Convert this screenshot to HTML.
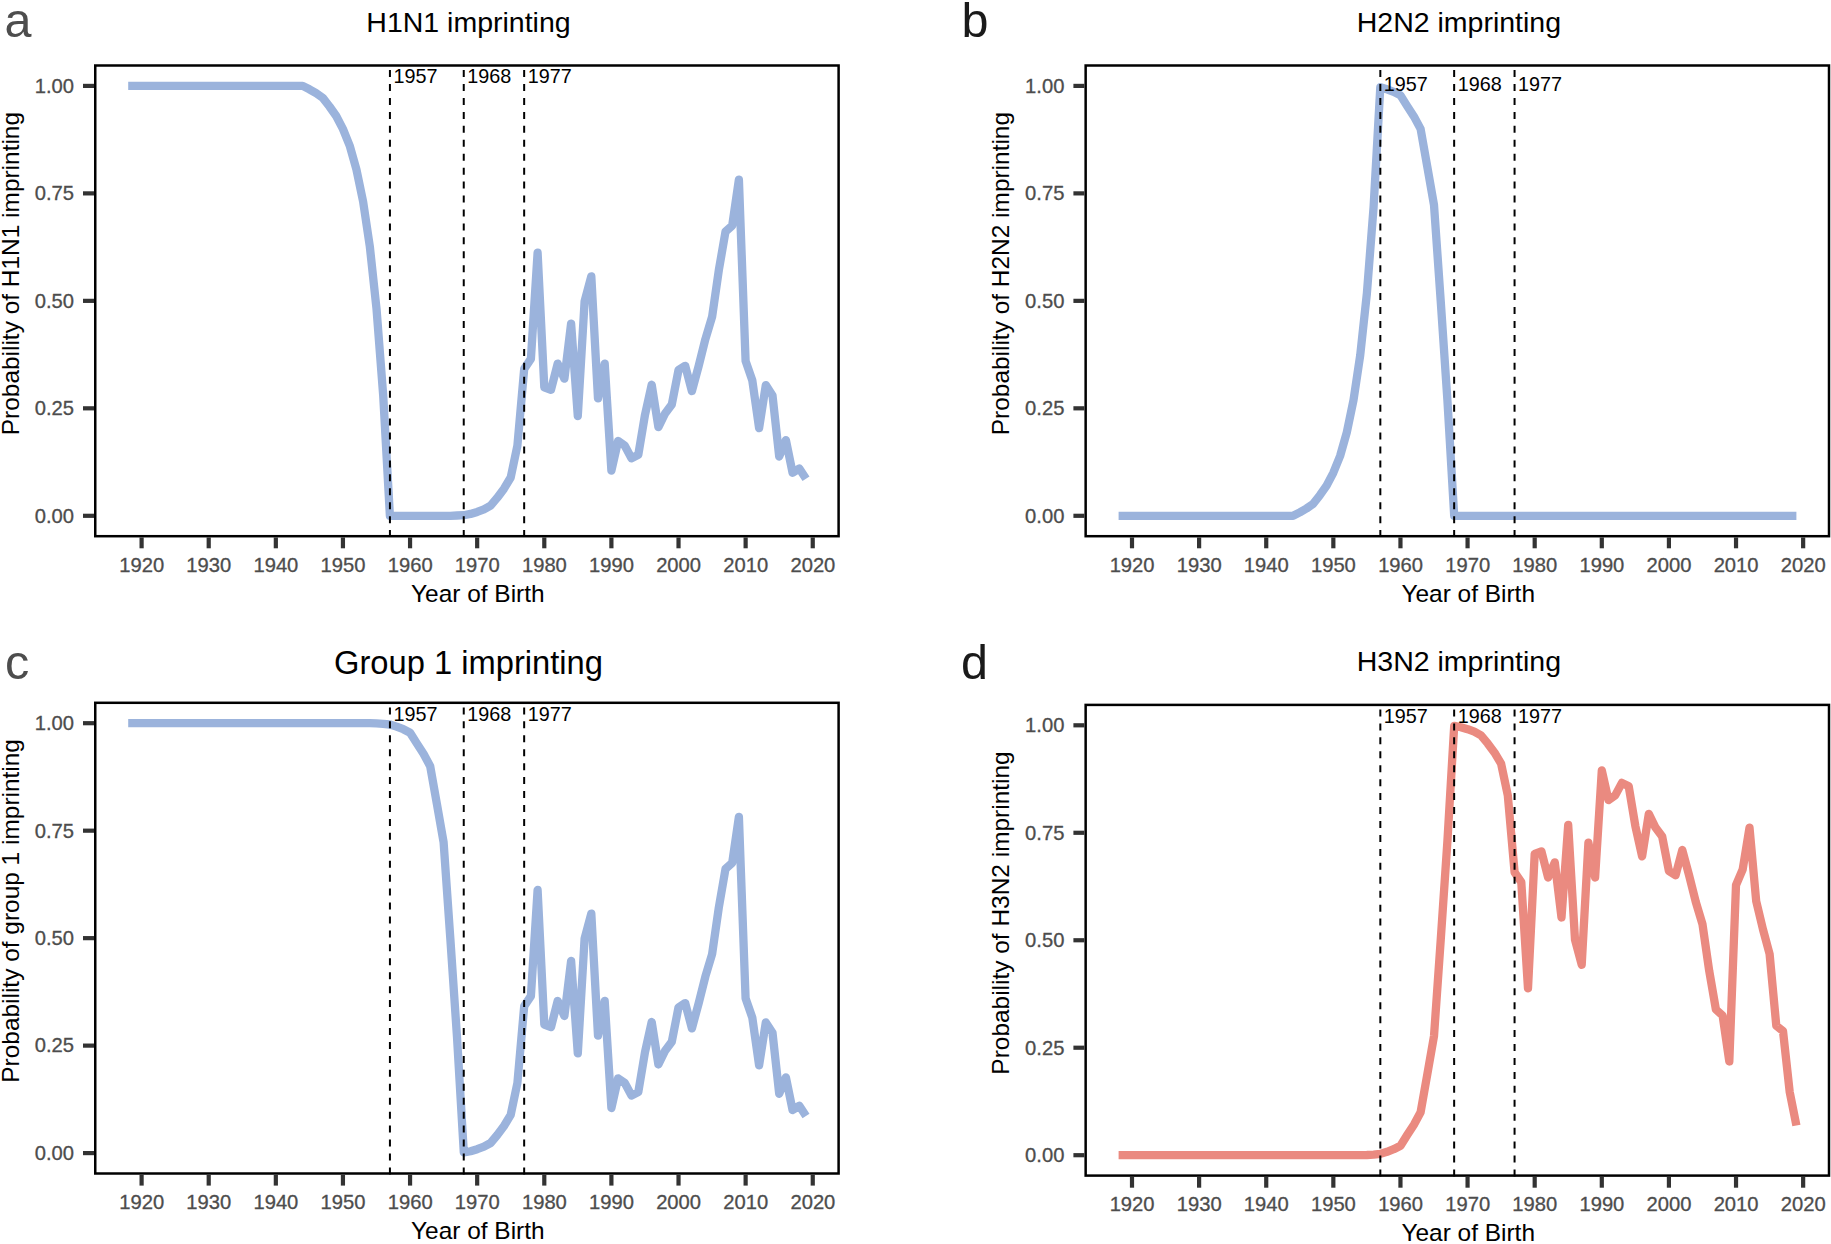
<!DOCTYPE html>
<html lang="en">
<head>
<meta charset="utf-8">
<title>Imprinting probabilities by year of birth</title>
<style>
html,body{margin:0;padding:0;background:#fff;}
body{width:1831px;height:1244px;overflow:hidden;}
svg{display:block;font-family:"Liberation Sans",Arial,Helvetica,sans-serif;}
</style>
</head>
<body>
<svg width="1831" height="1244" viewBox="0 0 1831 1244">
<rect x="0" y="0" width="1831" height="1244" fill="#ffffff"/>
<g transform="translate(0.00,0.00)">
<text x="4.5" y="36.6" font-size="48.5" fill="#4d4d4d">a</text>
<text x="468.5" y="31.7" font-size="28.5" text-anchor="middle" fill="#000">H1N1 imprinting</text>
<path d="M128.2,85.9 L134.9,85.9 L141.6,85.9 L148.3,85.9 L155.0,85.9 L161.7,85.9 L168.4,85.9 L175.2,85.9 L181.9,85.9 L188.6,85.9 L195.3,85.9 L202.0,85.9 L208.7,85.9 L215.4,85.9 L222.1,85.9 L228.8,85.9 L235.6,85.9 L242.3,85.9 L249.0,85.9 L255.7,85.9 L262.4,85.9 L269.1,85.9 L275.8,85.9 L282.5,85.9 L289.3,85.9 L296.0,85.9 L302.7,85.9 L309.4,89.3 L316.1,93.2 L322.8,97.9 L329.5,106.5 L336.2,116.0 L342.9,128.9 L349.7,145.7 L356.4,169.3 L363.1,201.5 L369.8,246.3 L376.5,308.6 L383.2,395.4 L389.9,515.8 L396.6,515.8 L403.3,515.8 L410.1,515.8 L416.8,515.8 L423.5,515.8 L430.2,515.8 L436.9,515.8 L443.6,515.8 L450.3,515.8 L457.0,515.5 L463.8,515.2 L470.5,513.9 L477.2,511.9 L483.9,509.4 L490.6,505.7 L497.3,497.7 L504.0,488.7 L510.7,477.5 L517.4,445.7 L524.2,368.8 L530.9,358.9 L537.6,252.7 L544.3,387.3 L551.0,389.8 L557.7,363.6 L564.4,378.7 L571.1,323.6 L577.8,416.1 L584.6,301.3 L591.3,276.3 L598.0,398.4 L604.7,363.6 L611.4,470.7 L618.1,441.0 L624.8,445.7 L631.5,458.2 L638.3,454.8 L645.0,414.8 L651.7,384.7 L658.4,427.2 L665.1,413.5 L671.8,404.5 L678.5,370.1 L685.2,365.8 L691.9,391.1 L698.7,365.8 L705.4,339.1 L712.1,316.8 L718.8,270.3 L725.5,231.6 L732.2,225.6 L738.9,179.6 L745.6,361.0 L752.3,380.4 L759.1,428.1 L765.8,385.1 L772.5,395.4 L779.2,456.5 L785.9,440.1 L792.6,472.8 L799.3,468.5 L806.0,478.8" fill="none" stroke="#9bb3dc" stroke-width="8.3" stroke-linejoin="round" stroke-linecap="butt"/>
<line x1="389.93" y1="537.1" x2="389.93" y2="65.5" stroke="#000" stroke-width="2" stroke-dasharray="7 6.94"/>
<line x1="463.75" y1="537.1" x2="463.75" y2="65.5" stroke="#000" stroke-width="2" stroke-dasharray="7 6.94"/>
<line x1="524.16" y1="537.1" x2="524.16" y2="65.5" stroke="#000" stroke-width="2" stroke-dasharray="7 6.94"/>
<text x="393.4" y="83.3" font-size="19.8" fill="#000">1957</text>
<text x="467.3" y="83.3" font-size="19.8" fill="#000">1968</text>
<text x="527.7" y="83.3" font-size="19.8" fill="#000">1977</text>
<rect x="95.25" y="65.50" width="743.35" height="470.70" fill="none" stroke="#000" stroke-width="2.5"/>
<line x1="83" y1="515.80" x2="94" y2="515.80" stroke="#333" stroke-width="4.2"/>
<text x="74" y="522.7" font-size="20.2" text-anchor="end" fill="#4d4d4d" stroke="#4d4d4d" stroke-width="0.3">0.00</text>
<line x1="83" y1="408.32" x2="94" y2="408.32" stroke="#333" stroke-width="4.2"/>
<text x="74" y="415.2" font-size="20.2" text-anchor="end" fill="#4d4d4d" stroke="#4d4d4d" stroke-width="0.3">0.25</text>
<line x1="83" y1="300.85" x2="94" y2="300.85" stroke="#333" stroke-width="4.2"/>
<text x="74" y="307.7" font-size="20.2" text-anchor="end" fill="#4d4d4d" stroke="#4d4d4d" stroke-width="0.3">0.50</text>
<line x1="83" y1="193.38" x2="94" y2="193.38" stroke="#333" stroke-width="4.2"/>
<text x="74" y="200.3" font-size="20.2" text-anchor="end" fill="#4d4d4d" stroke="#4d4d4d" stroke-width="0.3">0.75</text>
<line x1="83" y1="85.90" x2="94" y2="85.90" stroke="#333" stroke-width="4.2"/>
<text x="74" y="92.8" font-size="20.2" text-anchor="end" fill="#4d4d4d" stroke="#4d4d4d" stroke-width="0.3">1.00</text>
<line x1="141.60" y1="537.4" x2="141.60" y2="548.3" stroke="#333" stroke-width="4.2"/>
<text x="141.7" y="571.7" font-size="20.2" text-anchor="middle" fill="#4d4d4d" stroke="#4d4d4d" stroke-width="0.3">1920</text>
<line x1="208.71" y1="537.4" x2="208.71" y2="548.3" stroke="#333" stroke-width="4.2"/>
<text x="208.8" y="571.7" font-size="20.2" text-anchor="middle" fill="#4d4d4d" stroke="#4d4d4d" stroke-width="0.3">1930</text>
<line x1="275.83" y1="537.4" x2="275.83" y2="548.3" stroke="#333" stroke-width="4.2"/>
<text x="275.9" y="571.7" font-size="20.2" text-anchor="middle" fill="#4d4d4d" stroke="#4d4d4d" stroke-width="0.3">1940</text>
<line x1="342.94" y1="537.4" x2="342.94" y2="548.3" stroke="#333" stroke-width="4.2"/>
<text x="343.0" y="571.7" font-size="20.2" text-anchor="middle" fill="#4d4d4d" stroke="#4d4d4d" stroke-width="0.3">1950</text>
<line x1="410.06" y1="537.4" x2="410.06" y2="548.3" stroke="#333" stroke-width="4.2"/>
<text x="410.2" y="571.7" font-size="20.2" text-anchor="middle" fill="#4d4d4d" stroke="#4d4d4d" stroke-width="0.3">1960</text>
<line x1="477.17" y1="537.4" x2="477.17" y2="548.3" stroke="#333" stroke-width="4.2"/>
<text x="477.3" y="571.7" font-size="20.2" text-anchor="middle" fill="#4d4d4d" stroke="#4d4d4d" stroke-width="0.3">1970</text>
<line x1="544.29" y1="537.4" x2="544.29" y2="548.3" stroke="#333" stroke-width="4.2"/>
<text x="544.4" y="571.7" font-size="20.2" text-anchor="middle" fill="#4d4d4d" stroke="#4d4d4d" stroke-width="0.3">1980</text>
<line x1="611.40" y1="537.4" x2="611.40" y2="548.3" stroke="#333" stroke-width="4.2"/>
<text x="611.5" y="571.7" font-size="20.2" text-anchor="middle" fill="#4d4d4d" stroke="#4d4d4d" stroke-width="0.3">1990</text>
<line x1="678.52" y1="537.4" x2="678.52" y2="548.3" stroke="#333" stroke-width="4.2"/>
<text x="678.6" y="571.7" font-size="20.2" text-anchor="middle" fill="#4d4d4d" stroke="#4d4d4d" stroke-width="0.3">2000</text>
<line x1="745.63" y1="537.4" x2="745.63" y2="548.3" stroke="#333" stroke-width="4.2"/>
<text x="745.7" y="571.7" font-size="20.2" text-anchor="middle" fill="#4d4d4d" stroke="#4d4d4d" stroke-width="0.3">2010</text>
<line x1="812.75" y1="537.4" x2="812.75" y2="548.3" stroke="#333" stroke-width="4.2"/>
<text x="812.9" y="571.7" font-size="20.2" text-anchor="middle" fill="#4d4d4d" stroke="#4d4d4d" stroke-width="0.3">2020</text>
<text x="477.8" y="601.7" font-size="24.45" text-anchor="middle" fill="#000">Year of Birth</text>
<text transform="translate(18.9,273.6) rotate(-90)" font-size="24.45" text-anchor="middle" fill="#000">Probability of H1N1 imprinting</text>
</g>
<g transform="translate(990.40,0.00)">
<text x="-28.9" y="36.6" font-size="48.5" fill="#1a1a1a">b</text>
<text x="468.5" y="31.7" font-size="28.5" text-anchor="middle" fill="#000">H2N2 imprinting</text>
<path d="M128.2,515.8 L134.9,515.8 L141.6,515.8 L148.3,515.8 L155.0,515.8 L161.7,515.8 L168.4,515.8 L175.2,515.8 L181.9,515.8 L188.6,515.8 L195.3,515.8 L202.0,515.8 L208.7,515.8 L215.4,515.8 L222.1,515.8 L228.8,515.8 L235.6,515.8 L242.3,515.8 L249.0,515.8 L255.7,515.8 L262.4,515.8 L269.1,515.8 L275.8,515.8 L282.5,515.8 L289.3,515.8 L296.0,515.8 L302.7,515.8 L309.4,512.4 L316.1,508.5 L322.8,503.8 L329.5,495.2 L336.2,485.7 L342.9,472.8 L349.7,456.0 L356.4,432.4 L363.1,400.2 L369.8,355.4 L376.5,293.3 L383.2,206.9 L389.9,87.2 L396.6,89.3 L403.3,91.9 L410.1,95.4 L416.8,106.1 L423.5,116.4 L430.2,128.9 L436.9,166.7 L443.6,205.0 L450.3,300.8 L457.0,400.0 L463.8,515.8 L470.5,515.8 L477.2,515.8 L483.9,515.8 L490.6,515.8 L497.3,515.8 L504.0,515.8 L510.7,515.8 L517.4,515.8 L524.2,515.8 L530.9,515.8 L537.6,515.8 L544.3,515.8 L551.0,515.8 L557.7,515.8 L564.4,515.8 L571.1,515.8 L577.8,515.8 L584.6,515.8 L591.3,515.8 L598.0,515.8 L604.7,515.8 L611.4,515.8 L618.1,515.8 L624.8,515.8 L631.5,515.8 L638.3,515.8 L645.0,515.8 L651.7,515.8 L658.4,515.8 L665.1,515.8 L671.8,515.8 L678.5,515.8 L685.2,515.8 L691.9,515.8 L698.7,515.8 L705.4,515.8 L712.1,515.8 L718.8,515.8 L725.5,515.8 L732.2,515.8 L738.9,515.8 L745.6,515.8 L752.3,515.8 L759.1,515.8 L765.8,515.8 L772.5,515.8 L779.2,515.8 L785.9,515.8 L792.6,515.8 L799.3,515.8 L806.0,515.8" fill="none" stroke="#9bb3dc" stroke-width="8.3" stroke-linejoin="round" stroke-linecap="butt"/>
<line x1="389.93" y1="537.1" x2="389.93" y2="65.5" stroke="#000" stroke-width="2" stroke-dasharray="7 6.94"/>
<line x1="463.75" y1="537.1" x2="463.75" y2="65.5" stroke="#000" stroke-width="2" stroke-dasharray="7 6.94"/>
<line x1="524.16" y1="537.1" x2="524.16" y2="65.5" stroke="#000" stroke-width="2" stroke-dasharray="7 6.94"/>
<text x="393.4" y="90.9" font-size="19.8" fill="#000">1957</text>
<text x="467.3" y="90.9" font-size="19.8" fill="#000">1968</text>
<text x="527.7" y="90.9" font-size="19.8" fill="#000">1977</text>
<rect x="95.25" y="65.50" width="743.35" height="470.70" fill="none" stroke="#000" stroke-width="2.5"/>
<line x1="83" y1="515.80" x2="94" y2="515.80" stroke="#333" stroke-width="4.2"/>
<text x="74" y="522.7" font-size="20.2" text-anchor="end" fill="#4d4d4d" stroke="#4d4d4d" stroke-width="0.3">0.00</text>
<line x1="83" y1="408.32" x2="94" y2="408.32" stroke="#333" stroke-width="4.2"/>
<text x="74" y="415.2" font-size="20.2" text-anchor="end" fill="#4d4d4d" stroke="#4d4d4d" stroke-width="0.3">0.25</text>
<line x1="83" y1="300.85" x2="94" y2="300.85" stroke="#333" stroke-width="4.2"/>
<text x="74" y="307.7" font-size="20.2" text-anchor="end" fill="#4d4d4d" stroke="#4d4d4d" stroke-width="0.3">0.50</text>
<line x1="83" y1="193.38" x2="94" y2="193.38" stroke="#333" stroke-width="4.2"/>
<text x="74" y="200.3" font-size="20.2" text-anchor="end" fill="#4d4d4d" stroke="#4d4d4d" stroke-width="0.3">0.75</text>
<line x1="83" y1="85.90" x2="94" y2="85.90" stroke="#333" stroke-width="4.2"/>
<text x="74" y="92.8" font-size="20.2" text-anchor="end" fill="#4d4d4d" stroke="#4d4d4d" stroke-width="0.3">1.00</text>
<line x1="141.60" y1="537.4" x2="141.60" y2="548.3" stroke="#333" stroke-width="4.2"/>
<text x="141.7" y="571.7" font-size="20.2" text-anchor="middle" fill="#4d4d4d" stroke="#4d4d4d" stroke-width="0.3">1920</text>
<line x1="208.71" y1="537.4" x2="208.71" y2="548.3" stroke="#333" stroke-width="4.2"/>
<text x="208.8" y="571.7" font-size="20.2" text-anchor="middle" fill="#4d4d4d" stroke="#4d4d4d" stroke-width="0.3">1930</text>
<line x1="275.83" y1="537.4" x2="275.83" y2="548.3" stroke="#333" stroke-width="4.2"/>
<text x="275.9" y="571.7" font-size="20.2" text-anchor="middle" fill="#4d4d4d" stroke="#4d4d4d" stroke-width="0.3">1940</text>
<line x1="342.94" y1="537.4" x2="342.94" y2="548.3" stroke="#333" stroke-width="4.2"/>
<text x="343.0" y="571.7" font-size="20.2" text-anchor="middle" fill="#4d4d4d" stroke="#4d4d4d" stroke-width="0.3">1950</text>
<line x1="410.06" y1="537.4" x2="410.06" y2="548.3" stroke="#333" stroke-width="4.2"/>
<text x="410.2" y="571.7" font-size="20.2" text-anchor="middle" fill="#4d4d4d" stroke="#4d4d4d" stroke-width="0.3">1960</text>
<line x1="477.17" y1="537.4" x2="477.17" y2="548.3" stroke="#333" stroke-width="4.2"/>
<text x="477.3" y="571.7" font-size="20.2" text-anchor="middle" fill="#4d4d4d" stroke="#4d4d4d" stroke-width="0.3">1970</text>
<line x1="544.29" y1="537.4" x2="544.29" y2="548.3" stroke="#333" stroke-width="4.2"/>
<text x="544.4" y="571.7" font-size="20.2" text-anchor="middle" fill="#4d4d4d" stroke="#4d4d4d" stroke-width="0.3">1980</text>
<line x1="611.40" y1="537.4" x2="611.40" y2="548.3" stroke="#333" stroke-width="4.2"/>
<text x="611.5" y="571.7" font-size="20.2" text-anchor="middle" fill="#4d4d4d" stroke="#4d4d4d" stroke-width="0.3">1990</text>
<line x1="678.52" y1="537.4" x2="678.52" y2="548.3" stroke="#333" stroke-width="4.2"/>
<text x="678.6" y="571.7" font-size="20.2" text-anchor="middle" fill="#4d4d4d" stroke="#4d4d4d" stroke-width="0.3">2000</text>
<line x1="745.63" y1="537.4" x2="745.63" y2="548.3" stroke="#333" stroke-width="4.2"/>
<text x="745.7" y="571.7" font-size="20.2" text-anchor="middle" fill="#4d4d4d" stroke="#4d4d4d" stroke-width="0.3">2010</text>
<line x1="812.75" y1="537.4" x2="812.75" y2="548.3" stroke="#333" stroke-width="4.2"/>
<text x="812.9" y="571.7" font-size="20.2" text-anchor="middle" fill="#4d4d4d" stroke="#4d4d4d" stroke-width="0.3">2020</text>
<text x="477.8" y="601.7" font-size="24.45" text-anchor="middle" fill="#000">Year of Birth</text>
<text transform="translate(18.9,273.6) rotate(-90)" font-size="24.45" text-anchor="middle" fill="#000">Probability of H2N2 imprinting</text>
</g>
<g transform="translate(0.00,637.30)">
<text x="5.0" y="41.2" font-size="48.5" fill="#4d4d4d">c</text>
<text x="468.5" y="36.5" font-size="32.7" text-anchor="middle" fill="#000">Group 1 imprinting</text>
<path d="M128.2,85.9 L134.9,85.9 L141.6,85.9 L148.3,85.9 L155.0,85.9 L161.7,85.9 L168.4,85.9 L175.2,85.9 L181.9,85.9 L188.6,85.9 L195.3,85.9 L202.0,85.9 L208.7,85.9 L215.4,85.9 L222.1,85.9 L228.8,85.9 L235.6,85.9 L242.3,85.9 L249.0,85.9 L255.7,85.9 L262.4,85.9 L269.1,85.9 L275.8,85.9 L282.5,85.9 L289.3,85.9 L296.0,85.9 L302.7,85.9 L309.4,85.9 L316.1,85.9 L322.8,85.9 L329.5,85.9 L336.2,85.9 L342.9,85.9 L349.7,85.9 L356.4,85.9 L363.1,85.9 L369.8,85.9 L376.5,86.1 L383.2,86.5 L389.9,87.2 L396.6,89.3 L403.3,91.9 L410.1,95.4 L416.8,106.1 L423.5,116.4 L430.2,128.9 L436.9,166.7 L443.6,205.0 L450.3,300.8 L457.0,399.7 L463.8,515.2 L470.5,513.9 L477.2,511.9 L483.9,509.4 L490.6,505.7 L497.3,497.7 L504.0,488.7 L510.7,477.5 L517.4,445.7 L524.2,368.8 L530.9,358.9 L537.6,252.7 L544.3,387.3 L551.0,389.8 L557.7,363.6 L564.4,378.7 L571.1,323.6 L577.8,416.1 L584.6,301.3 L591.3,276.3 L598.0,398.4 L604.7,363.6 L611.4,470.7 L618.1,441.0 L624.8,445.7 L631.5,458.2 L638.3,454.8 L645.0,414.8 L651.7,384.7 L658.4,427.2 L665.1,413.5 L671.8,404.5 L678.5,370.1 L685.2,365.8 L691.9,391.1 L698.7,365.8 L705.4,339.1 L712.1,316.8 L718.8,270.3 L725.5,231.6 L732.2,225.6 L738.9,179.6 L745.6,361.0 L752.3,380.4 L759.1,428.1 L765.8,385.1 L772.5,395.4 L779.2,456.5 L785.9,440.1 L792.6,472.8 L799.3,468.5 L806.0,478.8" fill="none" stroke="#9bb3dc" stroke-width="8.3" stroke-linejoin="round" stroke-linecap="butt"/>
<line x1="389.93" y1="537.1" x2="389.93" y2="65.5" stroke="#000" stroke-width="2" stroke-dasharray="7 6.94"/>
<line x1="463.75" y1="537.1" x2="463.75" y2="65.5" stroke="#000" stroke-width="2" stroke-dasharray="7 6.94"/>
<line x1="524.16" y1="537.1" x2="524.16" y2="65.5" stroke="#000" stroke-width="2" stroke-dasharray="7 6.94"/>
<text x="393.4" y="83.3" font-size="19.8" fill="#000">1957</text>
<text x="467.3" y="83.3" font-size="19.8" fill="#000">1968</text>
<text x="527.7" y="83.3" font-size="19.8" fill="#000">1977</text>
<rect x="95.25" y="65.50" width="743.35" height="470.70" fill="none" stroke="#000" stroke-width="2.5"/>
<line x1="83" y1="515.80" x2="94" y2="515.80" stroke="#333" stroke-width="4.2"/>
<text x="74" y="522.7" font-size="20.2" text-anchor="end" fill="#4d4d4d" stroke="#4d4d4d" stroke-width="0.3">0.00</text>
<line x1="83" y1="408.32" x2="94" y2="408.32" stroke="#333" stroke-width="4.2"/>
<text x="74" y="415.2" font-size="20.2" text-anchor="end" fill="#4d4d4d" stroke="#4d4d4d" stroke-width="0.3">0.25</text>
<line x1="83" y1="300.85" x2="94" y2="300.85" stroke="#333" stroke-width="4.2"/>
<text x="74" y="307.7" font-size="20.2" text-anchor="end" fill="#4d4d4d" stroke="#4d4d4d" stroke-width="0.3">0.50</text>
<line x1="83" y1="193.38" x2="94" y2="193.38" stroke="#333" stroke-width="4.2"/>
<text x="74" y="200.3" font-size="20.2" text-anchor="end" fill="#4d4d4d" stroke="#4d4d4d" stroke-width="0.3">0.75</text>
<line x1="83" y1="85.90" x2="94" y2="85.90" stroke="#333" stroke-width="4.2"/>
<text x="74" y="92.8" font-size="20.2" text-anchor="end" fill="#4d4d4d" stroke="#4d4d4d" stroke-width="0.3">1.00</text>
<line x1="141.60" y1="537.4" x2="141.60" y2="548.3" stroke="#333" stroke-width="4.2"/>
<text x="141.7" y="571.7" font-size="20.2" text-anchor="middle" fill="#4d4d4d" stroke="#4d4d4d" stroke-width="0.3">1920</text>
<line x1="208.71" y1="537.4" x2="208.71" y2="548.3" stroke="#333" stroke-width="4.2"/>
<text x="208.8" y="571.7" font-size="20.2" text-anchor="middle" fill="#4d4d4d" stroke="#4d4d4d" stroke-width="0.3">1930</text>
<line x1="275.83" y1="537.4" x2="275.83" y2="548.3" stroke="#333" stroke-width="4.2"/>
<text x="275.9" y="571.7" font-size="20.2" text-anchor="middle" fill="#4d4d4d" stroke="#4d4d4d" stroke-width="0.3">1940</text>
<line x1="342.94" y1="537.4" x2="342.94" y2="548.3" stroke="#333" stroke-width="4.2"/>
<text x="343.0" y="571.7" font-size="20.2" text-anchor="middle" fill="#4d4d4d" stroke="#4d4d4d" stroke-width="0.3">1950</text>
<line x1="410.06" y1="537.4" x2="410.06" y2="548.3" stroke="#333" stroke-width="4.2"/>
<text x="410.2" y="571.7" font-size="20.2" text-anchor="middle" fill="#4d4d4d" stroke="#4d4d4d" stroke-width="0.3">1960</text>
<line x1="477.17" y1="537.4" x2="477.17" y2="548.3" stroke="#333" stroke-width="4.2"/>
<text x="477.3" y="571.7" font-size="20.2" text-anchor="middle" fill="#4d4d4d" stroke="#4d4d4d" stroke-width="0.3">1970</text>
<line x1="544.29" y1="537.4" x2="544.29" y2="548.3" stroke="#333" stroke-width="4.2"/>
<text x="544.4" y="571.7" font-size="20.2" text-anchor="middle" fill="#4d4d4d" stroke="#4d4d4d" stroke-width="0.3">1980</text>
<line x1="611.40" y1="537.4" x2="611.40" y2="548.3" stroke="#333" stroke-width="4.2"/>
<text x="611.5" y="571.7" font-size="20.2" text-anchor="middle" fill="#4d4d4d" stroke="#4d4d4d" stroke-width="0.3">1990</text>
<line x1="678.52" y1="537.4" x2="678.52" y2="548.3" stroke="#333" stroke-width="4.2"/>
<text x="678.6" y="571.7" font-size="20.2" text-anchor="middle" fill="#4d4d4d" stroke="#4d4d4d" stroke-width="0.3">2000</text>
<line x1="745.63" y1="537.4" x2="745.63" y2="548.3" stroke="#333" stroke-width="4.2"/>
<text x="745.7" y="571.7" font-size="20.2" text-anchor="middle" fill="#4d4d4d" stroke="#4d4d4d" stroke-width="0.3">2010</text>
<line x1="812.75" y1="537.4" x2="812.75" y2="548.3" stroke="#333" stroke-width="4.2"/>
<text x="812.9" y="571.7" font-size="20.2" text-anchor="middle" fill="#4d4d4d" stroke="#4d4d4d" stroke-width="0.3">2020</text>
<text x="477.8" y="601.7" font-size="24.45" text-anchor="middle" fill="#000">Year of Birth</text>
<text transform="translate(18.9,273.6) rotate(-90)" font-size="24.45" text-anchor="middle" fill="#000">Probability of group 1 imprinting</text>
</g>
<g transform="translate(990.40,639.40)">
<text x="-29.3" y="39.4" font-size="48.5" fill="#1a1a1a">d</text>
<text x="468.5" y="31.7" font-size="28.5" text-anchor="middle" fill="#000">H3N2 imprinting</text>
<path d="M128.2,515.8 L134.9,515.8 L141.6,515.8 L148.3,515.8 L155.0,515.8 L161.7,515.8 L168.4,515.8 L175.2,515.8 L181.9,515.8 L188.6,515.8 L195.3,515.8 L202.0,515.8 L208.7,515.8 L215.4,515.8 L222.1,515.8 L228.8,515.8 L235.6,515.8 L242.3,515.8 L249.0,515.8 L255.7,515.8 L262.4,515.8 L269.1,515.8 L275.8,515.8 L282.5,515.8 L289.3,515.8 L296.0,515.8 L302.7,515.8 L309.4,515.8 L316.1,515.8 L322.8,515.8 L329.5,515.8 L336.2,515.8 L342.9,515.8 L349.7,515.8 L356.4,515.8 L363.1,515.8 L369.8,515.8 L376.5,515.6 L383.2,515.2 L389.9,514.5 L396.6,512.4 L403.3,509.8 L410.1,506.3 L416.8,495.6 L423.5,485.3 L430.2,472.8 L436.9,435.0 L443.6,396.7 L450.3,300.8 L457.0,202.0 L463.8,86.5 L470.5,87.8 L477.2,89.8 L483.9,92.3 L490.6,96.0 L497.3,104.0 L504.0,113.0 L510.7,124.2 L517.4,156.0 L524.2,232.9 L530.9,242.8 L537.6,349.0 L544.3,214.4 L551.0,211.9 L557.7,238.1 L564.4,223.0 L571.1,278.1 L577.8,185.6 L584.6,300.4 L591.3,325.4 L598.0,203.3 L604.7,238.1 L611.4,131.0 L618.1,160.7 L624.8,156.0 L631.5,143.5 L638.3,146.9 L645.0,186.9 L651.7,217.0 L658.4,174.5 L665.1,188.2 L671.8,197.2 L678.5,231.6 L685.2,235.9 L691.9,210.6 L698.7,235.9 L705.4,262.6 L712.1,284.9 L718.8,331.4 L725.5,370.1 L732.2,376.1 L738.9,422.1 L745.6,245.8 L752.3,229.9 L759.1,188.2 L765.8,261.7 L772.5,289.7 L779.2,314.6 L785.9,386.4 L792.6,391.6 L799.3,452.6 L806.0,486.1" fill="none" stroke="#ea8a80" stroke-width="8.3" stroke-linejoin="round" stroke-linecap="butt"/>
<line x1="389.93" y1="537.1" x2="389.93" y2="65.5" stroke="#000" stroke-width="2" stroke-dasharray="7 6.94"/>
<line x1="463.75" y1="537.1" x2="463.75" y2="65.5" stroke="#000" stroke-width="2" stroke-dasharray="7 6.94"/>
<line x1="524.16" y1="537.1" x2="524.16" y2="65.5" stroke="#000" stroke-width="2" stroke-dasharray="7 6.94"/>
<text x="393.4" y="83.3" font-size="19.8" fill="#000">1957</text>
<text x="467.3" y="83.3" font-size="19.8" fill="#000">1968</text>
<text x="527.7" y="83.3" font-size="19.8" fill="#000">1977</text>
<rect x="95.25" y="65.50" width="743.35" height="470.70" fill="none" stroke="#000" stroke-width="2.5"/>
<line x1="83" y1="515.80" x2="94" y2="515.80" stroke="#333" stroke-width="4.2"/>
<text x="74" y="522.7" font-size="20.2" text-anchor="end" fill="#4d4d4d" stroke="#4d4d4d" stroke-width="0.3">0.00</text>
<line x1="83" y1="408.32" x2="94" y2="408.32" stroke="#333" stroke-width="4.2"/>
<text x="74" y="415.2" font-size="20.2" text-anchor="end" fill="#4d4d4d" stroke="#4d4d4d" stroke-width="0.3">0.25</text>
<line x1="83" y1="300.85" x2="94" y2="300.85" stroke="#333" stroke-width="4.2"/>
<text x="74" y="307.7" font-size="20.2" text-anchor="end" fill="#4d4d4d" stroke="#4d4d4d" stroke-width="0.3">0.50</text>
<line x1="83" y1="193.38" x2="94" y2="193.38" stroke="#333" stroke-width="4.2"/>
<text x="74" y="200.3" font-size="20.2" text-anchor="end" fill="#4d4d4d" stroke="#4d4d4d" stroke-width="0.3">0.75</text>
<line x1="83" y1="85.90" x2="94" y2="85.90" stroke="#333" stroke-width="4.2"/>
<text x="74" y="92.8" font-size="20.2" text-anchor="end" fill="#4d4d4d" stroke="#4d4d4d" stroke-width="0.3">1.00</text>
<line x1="141.60" y1="537.4" x2="141.60" y2="548.3" stroke="#333" stroke-width="4.2"/>
<text x="141.7" y="571.7" font-size="20.2" text-anchor="middle" fill="#4d4d4d" stroke="#4d4d4d" stroke-width="0.3">1920</text>
<line x1="208.71" y1="537.4" x2="208.71" y2="548.3" stroke="#333" stroke-width="4.2"/>
<text x="208.8" y="571.7" font-size="20.2" text-anchor="middle" fill="#4d4d4d" stroke="#4d4d4d" stroke-width="0.3">1930</text>
<line x1="275.83" y1="537.4" x2="275.83" y2="548.3" stroke="#333" stroke-width="4.2"/>
<text x="275.9" y="571.7" font-size="20.2" text-anchor="middle" fill="#4d4d4d" stroke="#4d4d4d" stroke-width="0.3">1940</text>
<line x1="342.94" y1="537.4" x2="342.94" y2="548.3" stroke="#333" stroke-width="4.2"/>
<text x="343.0" y="571.7" font-size="20.2" text-anchor="middle" fill="#4d4d4d" stroke="#4d4d4d" stroke-width="0.3">1950</text>
<line x1="410.06" y1="537.4" x2="410.06" y2="548.3" stroke="#333" stroke-width="4.2"/>
<text x="410.2" y="571.7" font-size="20.2" text-anchor="middle" fill="#4d4d4d" stroke="#4d4d4d" stroke-width="0.3">1960</text>
<line x1="477.17" y1="537.4" x2="477.17" y2="548.3" stroke="#333" stroke-width="4.2"/>
<text x="477.3" y="571.7" font-size="20.2" text-anchor="middle" fill="#4d4d4d" stroke="#4d4d4d" stroke-width="0.3">1970</text>
<line x1="544.29" y1="537.4" x2="544.29" y2="548.3" stroke="#333" stroke-width="4.2"/>
<text x="544.4" y="571.7" font-size="20.2" text-anchor="middle" fill="#4d4d4d" stroke="#4d4d4d" stroke-width="0.3">1980</text>
<line x1="611.40" y1="537.4" x2="611.40" y2="548.3" stroke="#333" stroke-width="4.2"/>
<text x="611.5" y="571.7" font-size="20.2" text-anchor="middle" fill="#4d4d4d" stroke="#4d4d4d" stroke-width="0.3">1990</text>
<line x1="678.52" y1="537.4" x2="678.52" y2="548.3" stroke="#333" stroke-width="4.2"/>
<text x="678.6" y="571.7" font-size="20.2" text-anchor="middle" fill="#4d4d4d" stroke="#4d4d4d" stroke-width="0.3">2000</text>
<line x1="745.63" y1="537.4" x2="745.63" y2="548.3" stroke="#333" stroke-width="4.2"/>
<text x="745.7" y="571.7" font-size="20.2" text-anchor="middle" fill="#4d4d4d" stroke="#4d4d4d" stroke-width="0.3">2010</text>
<line x1="812.75" y1="537.4" x2="812.75" y2="548.3" stroke="#333" stroke-width="4.2"/>
<text x="812.9" y="571.7" font-size="20.2" text-anchor="middle" fill="#4d4d4d" stroke="#4d4d4d" stroke-width="0.3">2020</text>
<text x="477.8" y="601.7" font-size="24.45" text-anchor="middle" fill="#000">Year of Birth</text>
<text transform="translate(18.9,273.6) rotate(-90)" font-size="24.45" text-anchor="middle" fill="#000">Probability of H3N2 imprinting</text>
</g>
</svg>
</body>
</html>
